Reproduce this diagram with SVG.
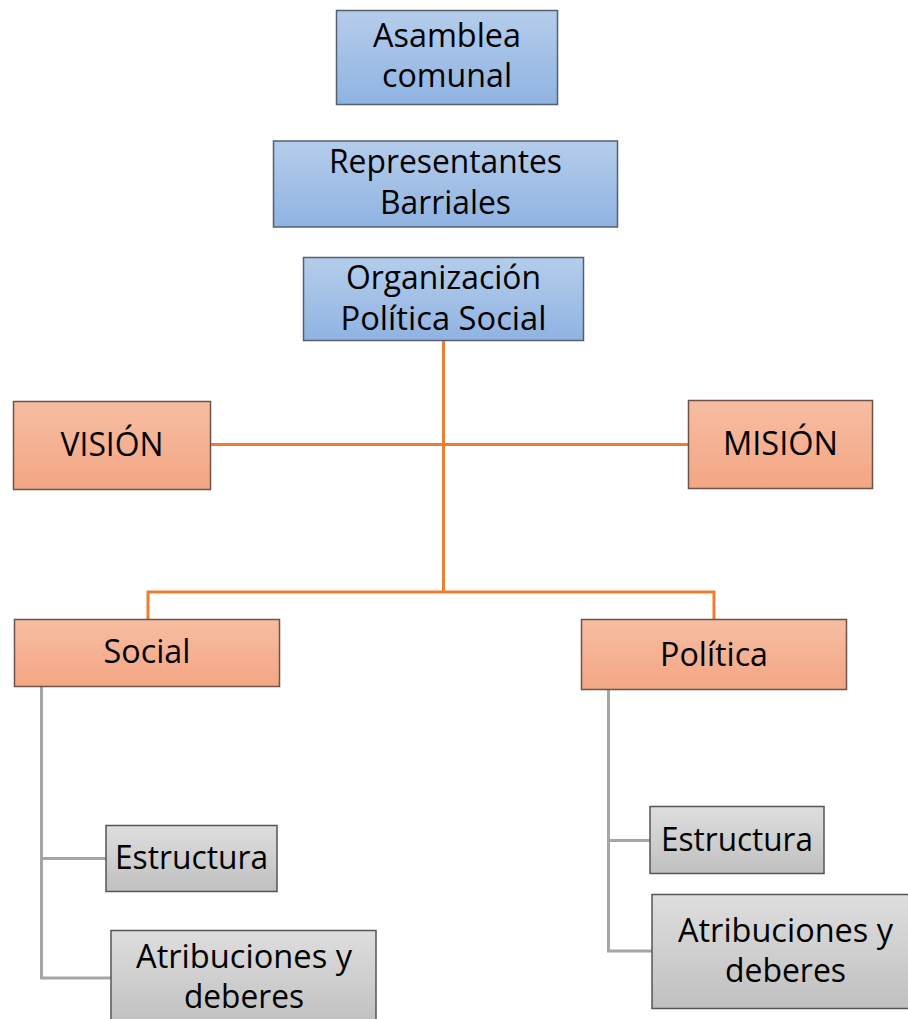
<svg xmlns="http://www.w3.org/2000/svg" width="908" height="1019" viewBox="0 0 908 1019">
<defs>
<linearGradient id="gBlue" x1="0" y1="0" x2="0" y2="1"><stop offset="0" stop-color="#b5cdeb"/><stop offset="1" stop-color="#8fb3e2"/></linearGradient>
<linearGradient id="gOrange" x1="0" y1="0" x2="0" y2="1"><stop offset="0" stop-color="#f7bda2"/><stop offset="1" stop-color="#f3a684"/></linearGradient>
<linearGradient id="gGray" x1="0" y1="0" x2="0" y2="1"><stop offset="0" stop-color="#dedede"/><stop offset="1" stop-color="#c0c0c0"/></linearGradient>
<style>
.blue{fill:url(#gBlue);stroke:#55606c;stroke-width:1.5}
.orange{fill:url(#gOrange);stroke:#6e5348;stroke-width:1.5}
.gray{fill:url(#gGray);stroke:#555555;stroke-width:1.5}
text{font-family:"Open Sans","Noto Sans","Liberation Sans",sans-serif;font-size:32px;fill:#000;text-anchor:middle}
.oc{fill:none;stroke:#ed7d31;stroke-width:3}
.gc{fill:none;stroke:#a5a5a5;stroke-width:3}
</style>
</defs>
<g id="connectors">
<path class="oc" d="M443.5 340 V592"/>
<path class="oc" d="M210 444.5 H688"/>
<path class="oc" d="M148 620 V592 H714 V620"/>
<path class="gc" d="M41.5 686 V978 H111"/>
<path class="gc" d="M41.5 858.5 H106"/>
<path class="gc" d="M608.5 689 V951 H652"/>
<path class="gc" d="M608.5 840.5 H650"/>
</g>
<g id="asamblea">
<rect class="blue" x="336.5" y="10.5" width="221" height="94"/>
<text x="447" y="47" textLength="148" lengthAdjust="spacingAndGlyphs">Asamblea</text>
<text x="447" y="87" textLength="130" lengthAdjust="spacingAndGlyphs">comunal</text>
</g>
<g id="representantes">
<rect class="blue" x="273.5" y="141" width="344" height="86"/>
<text x="445.5" y="173" textLength="233" lengthAdjust="spacingAndGlyphs">Representantes</text>
<text x="445.5" y="214" textLength="131" lengthAdjust="spacingAndGlyphs">Barriales</text>
</g>
<g id="organizacion">
<rect class="blue" x="303.5" y="257.5" width="280" height="83"/>
<text x="443.5" y="289" textLength="195" lengthAdjust="spacingAndGlyphs">Organización</text>
<text x="443.5" y="330" textLength="206" lengthAdjust="spacingAndGlyphs">Política Social</text>
</g>
<g id="vision">
<rect class="orange" x="13.5" y="401.5" width="197" height="88"/>
<text x="112" y="456" textLength="103" lengthAdjust="spacingAndGlyphs">VISIÓN</text>
</g>
<g id="mision">
<rect class="orange" x="688.5" y="400.5" width="184" height="88"/>
<text x="780.5" y="455" textLength="115" lengthAdjust="spacingAndGlyphs">MISIÓN</text>
</g>
<g id="social">
<rect class="orange" x="14.5" y="619.5" width="265" height="67"/>
<text x="147" y="663" textLength="87" lengthAdjust="spacingAndGlyphs">Social</text>
</g>
<g id="politica">
<rect class="orange" x="581.5" y="619.5" width="265" height="70"/>
<text x="714" y="666" textLength="108" lengthAdjust="spacingAndGlyphs">Política</text>
</g>
<g id="estructura-social">
<rect class="gray" x="106" y="825.5" width="171" height="66"/>
<text x="191.5" y="869" textLength="153" lengthAdjust="spacingAndGlyphs">Estructura</text>
</g>
<g id="atribuciones-social">
<rect class="gray" x="111" y="930.5" width="265" height="95"/>
<text x="244" y="968" textLength="216" lengthAdjust="spacingAndGlyphs">Atribuciones y</text>
<text x="244" y="1008" textLength="120" lengthAdjust="spacingAndGlyphs">deberes</text>
</g>
<g id="estructura-politica">
<rect class="gray" x="650" y="806.5" width="174" height="67"/>
<text x="737" y="851" textLength="152" lengthAdjust="spacingAndGlyphs">Estructura</text>
</g>
<g id="atribuciones-politica">
<rect class="gray" x="652" y="894.5" width="258" height="114"/>
<text x="785.5" y="942" textLength="215" lengthAdjust="spacingAndGlyphs">Atribuciones y</text>
<text x="785.5" y="982" textLength="121" lengthAdjust="spacingAndGlyphs">deberes</text>
</g>
</svg>
